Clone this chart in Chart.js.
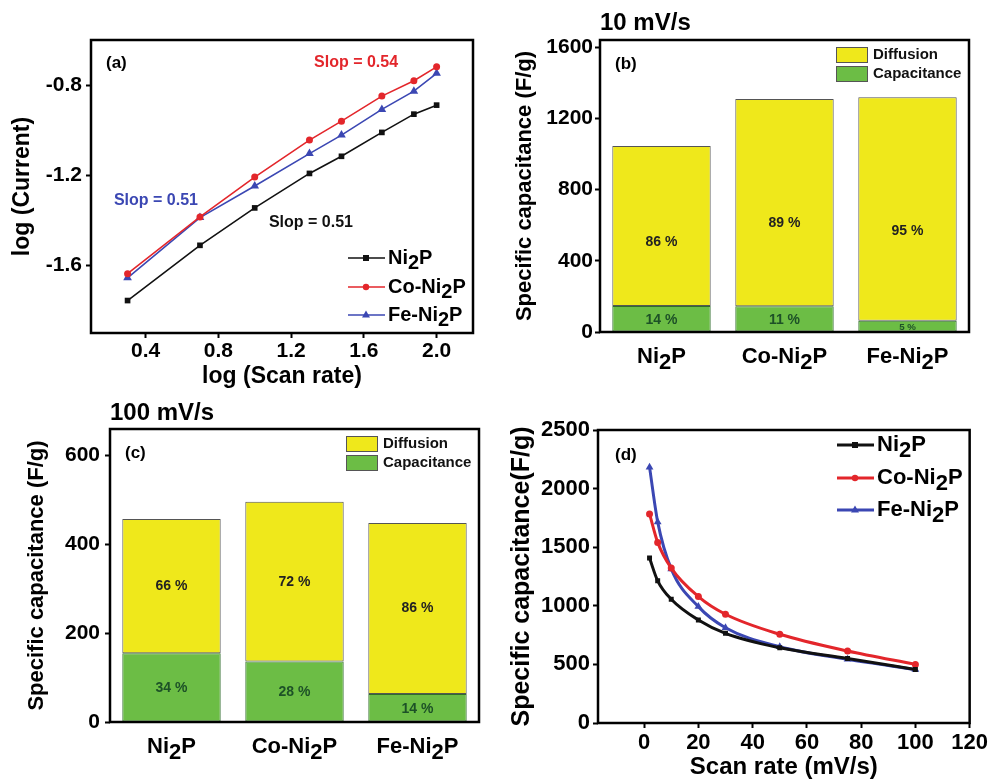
<!DOCTYPE html>
<html>
<head>
<meta charset="utf-8">
<script src="https://cdn.jsdelivr.net/npm/chart.js@4.4.1/dist/chart.umd.min.js"></script>
<style>
  body { margin: 0; background: #fff; }
  #page { position: relative; width: 990px; height: 780px; overflow: hidden; }
  .panel { position: absolute; }
</style>
</head>
<body>
<div id="page">
  <div class="panel" style="left:0;top:0"><canvas id="chartA" width="490" height="390"></canvas></div>
  <div class="panel" style="left:490px;top:0"><canvas id="chartB" width="500" height="390"></canvas></div>
  <div class="panel" style="left:0;top:390px"><canvas id="chartC" width="490" height="390"></canvas></div>
  <div class="panel" style="left:490px;top:390px"><canvas id="chartD" width="500" height="390"></canvas></div>
</div>
<script>
const FONT = "'Liberation Sans', Arial, Helvetica, sans-serif";

// (a) log(current) vs log(scan rate)
const logScanRate = [0.301, 0.699, 1.0, 1.301, 1.477, 1.699, 1.875, 2.0];
const logCurrentNi2P = [-1.756, -1.511, -1.345, -1.192, -1.116, -1.010, -0.929, -0.889];
const logCurrentCoNi2P = [-1.637, -1.385, -1.208, -1.044, -0.960, -0.849, -0.781, -0.719];
const logCurrentFeNi2P = [-1.655, -1.388, -1.248, -1.104, -1.022, -0.908, -0.827, -0.748];
const ticksAx = [0.4, 0.8, 1.2, 1.6, 2.0];
const ticksAy = [-1.6, -1.2, -0.8];

// (b) and (c) capacitive / diffusion contributions
const samples = ['Ni2P', 'Co-Ni2P', 'Fe-Ni2P'];
const cap10 = [146, 144, 63];
const diff10 = [899, 1164, 1255];
const capPct10 = ['14 %', '11 %', '5 %'];
const diffPct10 = ['86 %', '89 %', '95 %'];
const ticksBy = [0, 400, 800, 1200, 1600];

const cap100 = [155, 136, 63];
const diff100 = [302, 360, 385];
const capPct100 = ['34 %', '28 %', '14 %'];
const diffPct100 = ['66 %', '72 %', '86 %'];
const ticksCy = [0, 200, 400, 600];

// (d) specific capacitance vs scan rate
const scanRate = [2, 5, 10, 20, 30, 50, 75, 100];
const spNi2P = [1407, 1213, 1056, 879, 765, 642, 551, 457];
const spCoNi2P = [1784, 1541, 1322, 1079, 928, 757, 614, 500];
const spFeNi2P = [2183, 1716, 1315, 993, 813, 651, 543, 457];
const ticksDx = [0, 20, 40, 60, 80, 100, 120];
const ticksDy = [0, 500, 1000, 1500, 2000, 2500];

const BLACK = '#111111', RED = '#e3262b', BLUE = '#3b47b3';
const YELLOW = '#efe81b', GREEN = '#6cbd45';

Chart.defaults.font.family = FONT;
Chart.defaults.color = '#000';
Chart.defaults.animation = false;

function font(size, weight = 'bold') {
  return weight + ' ' + size + 'px ' + FONT;
}

// text with the digit set lower, as in Ni2P
function drawFormula(ctx, text, x, y, size, align) {
  const parts = text.split(/(\d)/).filter(p => p);
  ctx.font = font(size);
  const total = parts.reduce((w, p) => w + ctx.measureText(p).width, 0);
  let cx = align === 'center' ? x - total / 2 : x;
  ctx.textAlign = 'left';
  ctx.textBaseline = 'middle';
  parts.forEach(p => {
    ctx.fillText(p, cx, /\d/.test(p) ? y + size * 0.25 : y);
    cx += ctx.measureText(p).width;
  });
}

function drawMarker(ctx, style, x, y, r, color) {
  ctx.fillStyle = color;
  ctx.beginPath();
  if (style === 'rect') {
    const h = r * 0.75;
    ctx.rect(x - h, y - h, 2 * h, 2 * h);
  } else if (style === 'triangle') {
    ctx.moveTo(x, y - r * 1.1);
    ctx.lineTo(x + r, y + r * 0.65);
    ctx.lineTo(x - r, y + r * 0.65);
    ctx.closePath();
  } else {
    ctx.arc(x, y, r * 0.8, 0, Math.PI * 2);
  }
  ctx.fill();
}

function axis(o) {
  return {
    type: o.type || 'linear',
    min: o.min,
    max: o.max,
    afterBuildTicks: o.ticks ? s => { s.ticks = o.ticks.map(v => ({ value: v })); } : undefined,
    afterFit: s => { if (s.isHorizontal()) s.height = o.size; else s.width = o.size; },
    border: { display: false },
    grid: { display: o.grid !== false, drawOnChartArea: false, tickLength: 5, tickWidth: 2, tickColor: '#000' },
    ticks: {
      display: o.tickFont !== undefined,
      font: { size: o.tickFont, weight: 'bold' },
      color: '#000',
      padding: o.pad,
      maxRotation: 0,
      autoSkip: false,
      callback: o.fmt || (v => String(v))
    },
    title: {
      display: !!o.title,
      text: o.title,
      color: '#000',
      font: { size: o.titleFont, weight: 'bold' },
      padding: { top: o.titlePad, bottom: o.titlePad }
    }
  };
}

const framePlugin = {
  id: 'frame',
  afterDatasetsDraw(chart) {
    const { ctx, chartArea: a } = chart;
    ctx.save();
    ctx.strokeStyle = '#000';
    ctx.lineWidth = 2.5;
    ctx.strokeRect(a.left, a.top, a.right - a.left, a.bottom - a.top);
    ctx.restore();
  }
};

// free text: px = canvas pixels, data = [x, y] in scale values
function notesPlugin(notes) {
  return {
    id: 'notes',
    afterDraw(chart) {
      const ctx = chart.ctx;
      notes.forEach(n => {
        let x, y;
        if (n.data) {
          x = chart.scales.x.getPixelForValue(n.data[0]);
          y = chart.scales.y.getPixelForValue(n.data[1]);
        } else {
          x = n.px[0];
          y = n.px[1];
        }
        ctx.save();
        ctx.font = font(n.size);
        ctx.fillStyle = n.color || '#000';
        ctx.textAlign = n.align || 'left';
        ctx.textBaseline = 'middle';
        ctx.fillText(n.text, x, y);
        ctx.restore();
      });
    }
  };
}

function lineLegend(x, rows, size, lineW, markR) {
  return {
    id: 'lineLegend',
    afterDraw(chart) {
      const ctx = chart.ctx;
      chart.data.datasets.forEach((ds, i) => {
        const y = rows[i];
        ctx.save();
        ctx.strokeStyle = ds.borderColor;
        ctx.lineWidth = lineW;
        ctx.beginPath();
        ctx.moveTo(x, y);
        ctx.lineTo(x + 37, y);
        ctx.stroke();
        drawMarker(ctx, ds.pointStyle, x + 18, y, markR, ds.borderColor);
        ctx.fillStyle = '#000';
        drawFormula(ctx, ds.label, x + 40, y, size, 'left');
        ctx.restore();
      });
    }
  };
}

function series(label, xs, ys, color, style, radius, width) {
  return {
    label: label,
    data: xs.map((x, i) => ({ x: x, y: ys[i] })),
    borderColor: color,
    backgroundColor: color,
    pointStyle: style,
    pointRadius: style === 'triangle' ? radius + 1 : radius,
    pointBorderWidth: 0,
    borderWidth: width
  };
}

function createLogChart() {
  new Chart(document.getElementById('chartA'), {
    type: 'line',
    data: {
      datasets: [
        series('Ni2P', logScanRate, logCurrentNi2P, BLACK, 'rect', 4, 1.6),
        series('Co-Ni2P', logScanRate, logCurrentCoNi2P, RED, 'circle', 3.5, 1.6),
        series('Fe-Ni2P', logScanRate, logCurrentFeNi2P, BLUE, 'triangle', 4, 1.6)
      ]
    },
    options: {
      responsive: false,
      layout: { padding: { top: 40, right: 17, left: 0, bottom: 0 } },
      scales: {
        x: axis({ min: 0.1, max: 2.2, ticks: ticksAx, size: 57, tickFont: 21, pad: 1,
                  fmt: v => v.toFixed(1), title: 'log (Scan rate)', titleFont: 23, titlePad: 0 }),
        y: axis({ min: -1.9, max: -0.6, ticks: ticksAy, size: 91, tickFont: 21, pad: 4,
                  fmt: v => v.toFixed(1), title: 'log (Current)', titleFont: 23, titlePad: 9 })
      },
      plugins: { legend: { display: false }, tooltip: { enabled: false } }
    },
    plugins: [
      framePlugin,
      lineLegend(348, [258, 287, 315], 20, 1.6, 4),
      notesPlugin([
        { text: '(a)', px: [106, 63], size: 17 },
        { text: 'Slop = 0.54', data: [1.557, -0.702], size: 16, color: RED, align: 'center' },
        { text: 'Slop = 0.51', data: [0.457, -1.314], size: 16, color: BLUE, align: 'center' },
        { text: 'Slop = 0.51', data: [1.309, -1.412], size: 16, color: BLACK, align: 'center' }
      ])
    ]
  });
}

function createSplitChart(id, cap, diff, capPct, diffPct, yMax, yTicks, opts) {
  const barLabels = {
    id: 'barLabels',
    afterDatasetsDraw(chart) {
      const ctx = chart.ctx;
      ctx.save();
      ctx.textAlign = 'center';
      ctx.textBaseline = 'middle';
      chart.getDatasetMeta(0).data.forEach((b, i) => {
        const h = b.base - b.y;
        ctx.font = font(Math.max(9, Math.min(14, h - 1)));
        ctx.fillStyle = '#1d5127';
        ctx.fillText(capPct[i], b.x, (b.y + b.base) / 2 + 1);
      });
      ctx.font = font(14);
      ctx.fillStyle = '#222';
      chart.getDatasetMeta(1).data.forEach((b, i) => {
        ctx.fillText(diffPct[i], b.x, b.base - opts.ratio * (b.base - b.y));
      });
      // category names with subscript
      const sx = chart.scales.x;
      ctx.fillStyle = '#000';
      samples.forEach((s, i) => {
        drawFormula(ctx, s, sx.getPixelForValue(i), chart.chartArea.bottom + 25, 22, 'center');
      });
      // legend boxes
      const rows = [['Diffusion', YELLOW], ['Capacitance', GREEN]];
      rows.forEach((r, i) => {
        const y = opts.legendY + i * 19;
        ctx.fillStyle = r[1];
        ctx.fillRect(346, y, 32, 16);
        ctx.strokeStyle = '#555';
        ctx.lineWidth = 1;
        ctx.strokeRect(346.5, y + 0.5, 31, 15);
        ctx.fillStyle = '#111';
        ctx.font = font(15);
        ctx.textAlign = 'left';
        ctx.fillText(r[0], 383, y + 8);
      });
      ctx.restore();
    }
  };

  new Chart(document.getElementById(id), {
    type: 'bar',
    data: {
      labels: samples,
      datasets: [
        { label: 'Capacitance', data: cap, backgroundColor: GREEN, borderColor: '#2f6b2c',
          borderWidth: 1, borderSkipped: false, barPercentage: 0.8, categoryPercentage: 1.0 },
        { label: 'Diffusion', data: diff, backgroundColor: YELLOW, borderColor: '#555',
          borderWidth: 1, borderSkipped: false, barPercentage: 0.8, categoryPercentage: 1.0 }
      ]
    },
    options: {
      responsive: false,
      layout: { padding: { top: opts.top, right: opts.right, left: 0, bottom: 0 } },
      scales: {
        x: Object.assign(axis({ type: 'category', size: 58, grid: false }), { stacked: true, offset: true }),
        y: Object.assign(axis({ min: 0, max: yMax, ticks: yTicks, size: 110, tickFont: 21, pad: opts.pad,
                                title: 'Specific capacitance (F/g)', titleFont: 22, titlePad: opts.titlePad }),
                         { stacked: true })
      },
      plugins: { legend: { display: false }, tooltip: { enabled: false } }
    },
    plugins: [
      barLabels,
      framePlugin,
      notesPlugin([
        { text: opts.title, px: [110, 23], size: 24 },
        { text: opts.tag, px: [125, opts.top + 24], size: 17 }
      ])
    ]
  });
}

function createRateChart() {
  const d = [
    series('Ni2P', scanRate, spNi2P, BLACK, 'rect', 3.5, 3),
    series('Co-Ni2P', scanRate, spCoNi2P, RED, 'circle', 3.5, 3),
    series('Fe-Ni2P', scanRate, spFeNi2P, BLUE, 'triangle', 3.5, 3)
  ];
  d.forEach(s => { s.cubicInterpolationMode = 'monotone'; });
  new Chart(document.getElementById('chartD'), {
    type: 'line',
    data: { datasets: d },
    options: {
      responsive: false,
      layout: { padding: { top: 40, right: 20, left: 0, bottom: 0 } },
      scales: {
        x: axis({ min: -17, max: 120, ticks: ticksDx, size: 57, tickFont: 22, pad: 2,
                  title: 'Scan rate (mV/s)', titleFont: 24, titlePad: -2 }),
        y: axis({ min: 0, max: 2500, ticks: ticksDy, size: 108, tickFont: 22, pad: 3,
                  title: 'Specific capacitance(F/g)', titleFont: 25, titlePad: 17 })
      },
      plugins: { legend: { display: false }, tooltip: { enabled: false } }
    },
    plugins: [
      framePlugin,
      lineLegend(347, [55, 88, 120], 22, 3, 4),
      notesPlugin([{ text: '(d)', px: [125, 65], size: 17 }])
    ]
  });
}

window.onload = function () {
  createLogChart();
  createSplitChart('chartB', cap10, diff10, capPct10, diffPct10, 1640, ticksBy,
    { title: '10 mV/s', tag: '(b)', top: 40, right: 21, pad: 2, titlePad: 22, ratio: 0.4, legendY: 47 });
  createSplitChart('chartC', cap100, diff100, capPct100, diffPct100, 660, ticksCy,
    { title: '100 mV/s', tag: '(c)', top: 39, right: 11, pad: 5, titlePad: 24, ratio: 0.5, legendY: 46 });
  createRateChart();
};
</script>
</body>
</html>
